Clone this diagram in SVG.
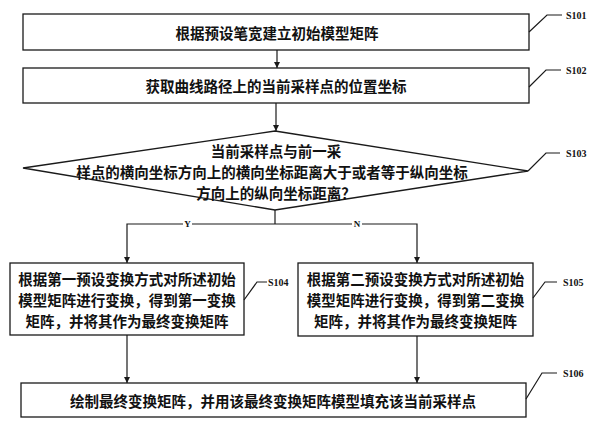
<svg xmlns="http://www.w3.org/2000/svg" width="600" height="432" viewBox="0 0 600 432">
<defs>
<marker id="arr" viewBox="0 0 10 10" refX="10" refY="5" markerWidth="6" markerHeight="7" orient="auto" markerUnits="userSpaceOnUse">
<path d="M0,0 L10,5 L0,10 Z" fill="#1a1a1a"/>
</marker>
<style>
.box{fill:#fff;stroke:#1a1a1a;stroke-width:1.3}
.ln{fill:none;stroke:#1a1a1a;stroke-width:1.2}
.t{font-family:"Noto Sans CJK SC","Noto Sans CJK JP",sans-serif;font-size:14.5px;font-weight:700;fill:#111;text-anchor:middle;dominant-baseline:central}
.lab{font-family:"Liberation Serif",serif;font-size:10px;font-weight:700;fill:#111}
.yn{font-family:"Liberation Serif",serif;font-size:9px;font-weight:700;fill:#111;text-anchor:middle;dominant-baseline:central}
</style>
</defs>
<rect width="600" height="432" fill="#fff"/>
<g id="connectors">
<line class="ln" x1="277" y1="50" x2="277" y2="68" marker-end="url(#arr)"/>
<line class="ln" x1="276" y1="103" x2="276" y2="131" marker-end="url(#arr)"/>
<polyline class="ln" points="275,210 275,224"/>
<polyline class="ln" points="275,224 127,224 127,263" marker-end="url(#arr)"/>
<polyline class="ln" points="275,224 417,224 417,263" marker-end="url(#arr)"/>
<line class="ln" x1="127" y1="335" x2="127" y2="383" marker-end="url(#arr)"/>
<line class="ln" x1="417" y1="336" x2="417" y2="383" marker-end="url(#arr)"/>
<rect x="183" y="219" width="9" height="10" fill="#fff"/>
<text class="yn" x="187.5" y="224">Y</text>
<rect x="352" y="219" width="10" height="10" fill="#fff"/>
<text class="yn" x="357" y="224">N</text>
</g>
<g id="S101">
<rect class="box" x="23" y="14" width="506" height="36"/>
<text class="t" x="277" y="32">根据预设笔宽建立初始模型矩阵</text>
<polyline class="ln" points="529,32 547,15 562,15"/>
<text class="lab" x="566" y="19">S101</text>
</g>
<g id="S102">
<rect class="box" x="23" y="68" width="506" height="35"/>
<text class="t" x="276" y="85.5">获取曲线路径上的当前采样点的位置坐标</text>
<polyline class="ln" points="529,87 546,70 561,70"/>
<text class="lab" x="566" y="74">S102</text>
</g>
<g id="S103">
<polygon class="box" points="275,131 528,171 275,210 23,168"/>
<text class="t" x="276" y="150">当前采样点与前一采</text>
<text class="t" x="272" y="171">样点的横向坐标方向上的横向坐标距离大于或者等于纵向坐标</text>
<text class="t" x="276" y="192">方向上的纵向坐标距离？</text>
<polyline class="ln" points="528,171 546,153 560,153"/>
<text class="lab" x="566" y="157">S103</text>
</g>
<g id="S104">
<rect class="box" x="10" y="263" width="234" height="72"/>
<text class="t" x="127" y="278">根据第一预设变换方式对所述初始</text>
<text class="t" x="127" y="299">模型矩阵进行变换，得到第一变换</text>
<text class="t" x="127" y="320">矩阵，并将其作为最终变换矩阵</text>
<polyline class="ln" points="244,300 257,282 267,282"/>
<text class="lab" x="268" y="285.5">S104</text>
</g>
<g id="S105">
<rect class="box" x="298" y="263" width="235" height="73"/>
<text class="t" x="415.5" y="278">根据第二预设变换方式对所述初始</text>
<text class="t" x="415.5" y="299">模型矩阵进行变换，得到第二变换</text>
<text class="t" x="415.5" y="320">矩阵，并将其作为最终变换矩阵</text>
<polyline class="ln" points="533,298 545,282 557,282"/>
<text class="lab" x="563" y="285.5">S105</text>
</g>
<g id="S106">
<rect class="box" x="21" y="383" width="505" height="34"/>
<text class="t" x="273" y="400">绘制最终变换矩阵，并用该最终变换矩阵模型填充该当前采样点</text>
<polyline class="ln" points="526,399 542,373 557,373"/>
<text class="lab" x="563" y="376.5">S106</text>
</g>
</svg>
